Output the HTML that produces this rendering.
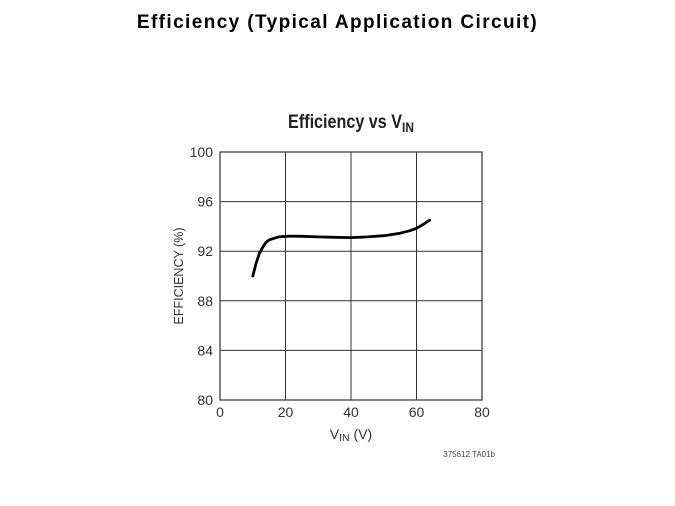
<!DOCTYPE html>
<html><head><meta charset="utf-8"><style>
body{margin:0;background:#fff;width:675px;height:506px;overflow:hidden;font-family:"Liberation Sans",sans-serif}
#title{position:absolute;left:0;width:675px;top:12px;text-align:center;font-weight:bold;font-size:19px;letter-spacing:1.4px;color:#000}
</style></head><body>
<div id="title">Efficiency (Typical Application Circuit)</div>
<svg id="chart" width="675" height="506" style="position:absolute;left:0;top:0"></svg>
<script>
const xTicks=[0,20,40,60,80];
const yTicks=[80,84,88,92,96,100];
const vin=[10,11,12,13,14,15,16,18,20,22,25,30,35,40,45,50,55,58,60,62,64];
const eff=[90.0,91.0,91.8,92.3,92.7,92.9,93.0,93.15,93.2,93.22,93.2,93.15,93.12,93.1,93.15,93.25,93.45,93.65,93.85,94.15,94.5];
const L=220,R=482,T=152,B=400;
const sx=v=>L+(v-0)/(80-0)*(R-L);
const sy=v=>B-(v-80)/(100-80)*(B-T);
const svg=document.getElementById('chart');
const NS='http://www.w3.org/2000/svg';
function mk(t,a){const e=document.createElementNS(NS,t);for(const k in a)e.setAttribute(k,a[k]);svg.appendChild(e);return e;}
const ct=mk('text',{x:351,y:128,'text-anchor':'middle','font-size':19,'font-weight':'bold',fill:'#222',transform:'translate(351,0) scale(0.85,1) translate(-351,0)'});


ct.innerHTML='Efficiency vs V<tspan font-size="14" dy="4">IN</tspan>';
const frame=mk('rect',{x:L,y:T,width:R-L,height:B-T,fill:'none',stroke:'#333','stroke-width':1.2});


xTicks.forEach(v=>{
  if(v>0&&v<80){const g=mk('line',{x1:sx(v),x2:sx(v),y1:T,y2:B,stroke:'#333','stroke-width':1});
  
  }
  const t=mk('text',{x:sx(v),y:B+17,'text-anchor':'middle','font-size':14,fill:'#333'});
  
  
  t.textContent=v;
});
yTicks.forEach(v=>{
  if(v>80&&v<100){const g=mk('line',{x1:L,x2:R,y1:sy(v),y2:sy(v),stroke:'#333','stroke-width':1});
  
  }
  const t=mk('text',{x:L-7,y:sy(v)+5,'text-anchor':'end','font-size':14,fill:'#333'});
  
  
  t.textContent=v;
});
const xt=mk('text',{x:351,y:439,'text-anchor':'middle','font-size':14,fill:'#333'});


xt.innerHTML='V<tspan font-size="10.5" dy="2">IN</tspan><tspan dy="-2"> (V)</tspan>';
const yt=mk('text',{x:183,y:276,'text-anchor':'middle','font-size':12.5,fill:'#333',transform:'rotate(-90 183 276)'});


yt.textContent='EFFICIENCY (%)';
const note=mk('text',{x:495,y:457,'text-anchor':'end','font-size':8,fill:'#444'});


note.textContent='375612 TA01b';
const d=vin.map((v,i)=>(i?'L':'M')+sx(v).toFixed(1)+','+sy(eff[i]).toFixed(1)).join(' ');
const line=mk('path',{d:d,fill:'none',stroke:'#000','stroke-width':2.8,'stroke-linejoin':'round','stroke-linecap':'round'});


</script>
</body></html>
